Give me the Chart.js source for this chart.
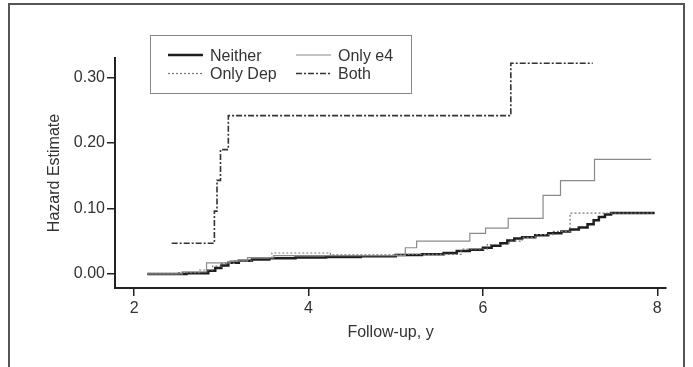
<!DOCTYPE html>
<html>
<head>
<meta charset="utf-8">
<script src="https://cdn.jsdelivr.net/npm/chart.js@4/dist/chart.umd.min.js"></script>
<style>
  body { margin: 0; background: #fff; }
  #wrap { position: relative; width: 693px; height: 367px; overflow: hidden; }
  #frame { position: absolute; left: 8px; top: 3px; width: 673px; height: 420px; border: 2px solid #555; }
  canvas { position: absolute; left: 0; top: 0; }
</style>
</head>
<body>
<div id="wrap">
  <div id="frame"></div>
  <canvas id="myChart" width="693" height="367"></canvas>
</div>
<script>
// follow-up years and hazard estimates
const neitherX = [2.15, 2.6, 2.85, 2.93, 3.0, 3.08, 3.2, 3.35, 3.55, 3.85, 4.2, 4.6, 5.0, 5.3, 5.55, 5.7, 5.85, 6.0, 6.1, 6.2, 6.28, 6.36, 6.45, 6.6, 6.75, 6.9, 7.0, 7.1, 7.2, 7.27, 7.33, 7.4, 7.47, 7.97];
const neitherY = [0, 0.001, 0.005, 0.009, 0.013, 0.017, 0.02, 0.022, 0.024, 0.025, 0.026, 0.027, 0.029, 0.03, 0.032, 0.035, 0.037, 0.04, 0.043, 0.047, 0.051, 0.054, 0.056, 0.059, 0.062, 0.065, 0.068, 0.071, 0.076, 0.082, 0.087, 0.091, 0.093, 0.093];

const onlyE4X = [2.15, 2.55, 2.83, 3.1, 3.3, 3.6, 5.11, 5.24, 5.85, 6.03, 6.29, 6.69, 6.89, 7.28, 7.93];
const onlyE4Y = [0, 0.003, 0.017, 0.02, 0.025, 0.028, 0.04, 0.05, 0.062, 0.07, 0.085, 0.12, 0.1425, 0.175, 0.175];

const onlyDepX = [2.15, 2.5, 2.75, 2.9, 3.0, 3.15, 3.35, 3.58, 4.25, 5.0, 5.75, 6.05, 6.3, 6.45, 6.6, 6.8, 7.0, 7.95];
const onlyDepY = [0, 0.002, 0.006, 0.012, 0.016, 0.02, 0.024, 0.032, 0.029, 0.03, 0.038, 0.045, 0.05, 0.056, 0.06, 0.065, 0.093, 0.093];

const bothX = [2.43, 2.92, 2.95, 2.99, 3.08, 6.32, 7.26];
const bothY = [0.047, 0.096, 0.143, 0.19, 0.242, 0.322, 0.322];

const xTicks = [2, 4, 6, 8];
const yTicks = [0, 0.1, 0.2, 0.3];
const seriesNames = ['Neither', 'Only e4', 'Only Dep', 'Both'];

const FONT = 'Liberation Sans, Arial, sans-serif';
const TEXT = '#333';

function pts(xs, ys) {
    return xs.map((x, i) => ({ x: x, y: ys[i] }));
}

const styles = [
    { borderColor: '#1e1e1e', borderWidth: 2.5, borderDash: [] },
    { borderColor: '#8a8a8a', borderWidth: 1.2, borderDash: [] },
    { borderColor: '#777', borderWidth: 1.2, borderDash: [2, 2] },
    { borderColor: '#333', borderWidth: 1.6, borderDash: [6, 2, 2, 2] },
];

const allData = [pts(neitherX, neitherY), pts(onlyE4X, onlyE4Y), pts(onlyDepX, onlyDepY), pts(bothX, bothY)];
// draw order: the thick one last so it sits on top
const order = [3, 2, 1, 0];

const datasets = order.map(i => Object.assign({
    label: seriesNames[i],
    data: allData[i],
    stepped: 'before',
    pointRadius: 0,
    fill: false,
}, styles[i]));

const legendBox = {
    id: 'legendBox',
    afterDraw(chart) {
        const ctx = chart.ctx;
        ctx.save();
        ctx.strokeStyle = '#888';
        ctx.lineWidth = 1;
        ctx.setLineDash([]);
        ctx.strokeRect(150.5, 35.5, 261, 58);
        const slots = [
            { x: 168, y: 55 }, { x: 296, y: 55 },
            { x: 168, y: 73.5 }, { x: 296, y: 73.5 },
        ];
        const idx = [0, 1, 2, 3];
        idx.forEach((i, k) => {
            const s = slots[k];
            ctx.beginPath();
            ctx.strokeStyle = styles[i].borderColor;
            ctx.lineWidth = styles[i].borderWidth;
            ctx.setLineDash(styles[i].borderDash);
            ctx.moveTo(s.x, s.y);
            ctx.lineTo(s.x + 35, s.y);
            ctx.stroke();
            ctx.setLineDash([]);
            ctx.fillStyle = TEXT;
            ctx.font = '16px ' + FONT;
            ctx.textBaseline = 'middle';
            ctx.textAlign = 'left';
            ctx.fillText(seriesNames[i], s.x + 42, s.y + 1.5);
        });
        ctx.restore();
    }
};

const ctx = document.getElementById('myChart').getContext('2d');
const myChart = new Chart(ctx, {
    type: 'line',
    data: { datasets: datasets },
    options: {
        responsive: false,
        animation: false,
        layout: { padding: { left: 45, right: 27, top: 58, bottom: 25 } },
        plugins: {
            legend: { display: false },
            tooltip: { enabled: false },
        },
        scales: {
            x: {
                type: 'linear',
                min: 1.78,
                max: 8.1,
                afterBuildTicks: s => { s.ticks = xTicks.map(v => ({ value: v })); },
                afterFit: s => { s.height = 54; },
                ticks: {
                    color: TEXT,
                    font: { family: FONT, size: 16 },
                    padding: 3,
                    maxRotation: 0,
                    callback: v => String(v),
                },
                grid: { drawOnChartArea: false, drawTicks: true, tickLength: 8, color: '#222', lineWidth: 1.5 },
                border: { display: true, color: '#222', width: 2 },
                title: { display: true, text: 'Follow-up, y', color: TEXT, font: { family: FONT, size: 16 }, padding: 0 },
            },
            y: {
                min: -0.0215,
                max: 0.33,
                afterBuildTicks: s => { s.ticks = yTicks.map(v => ({ value: v })); },
                afterFit: s => { s.width = 70; },
                ticks: {
                    color: TEXT,
                    font: { family: FONT, size: 16 },
                    padding: 2,
                    callback: v => v.toFixed(2),
                },
                grid: { drawOnChartArea: false, drawTicks: true, tickLength: 8, color: '#222', lineWidth: 1.5 },
                border: { display: true, color: '#222', width: 2 },
                title: { display: true, text: 'Hazard Estimate', color: TEXT, font: { family: FONT, size: 16 }, padding: 0 },
            },
        },
    },
    plugins: [legendBox],
});
</script>
</body>
</html>
